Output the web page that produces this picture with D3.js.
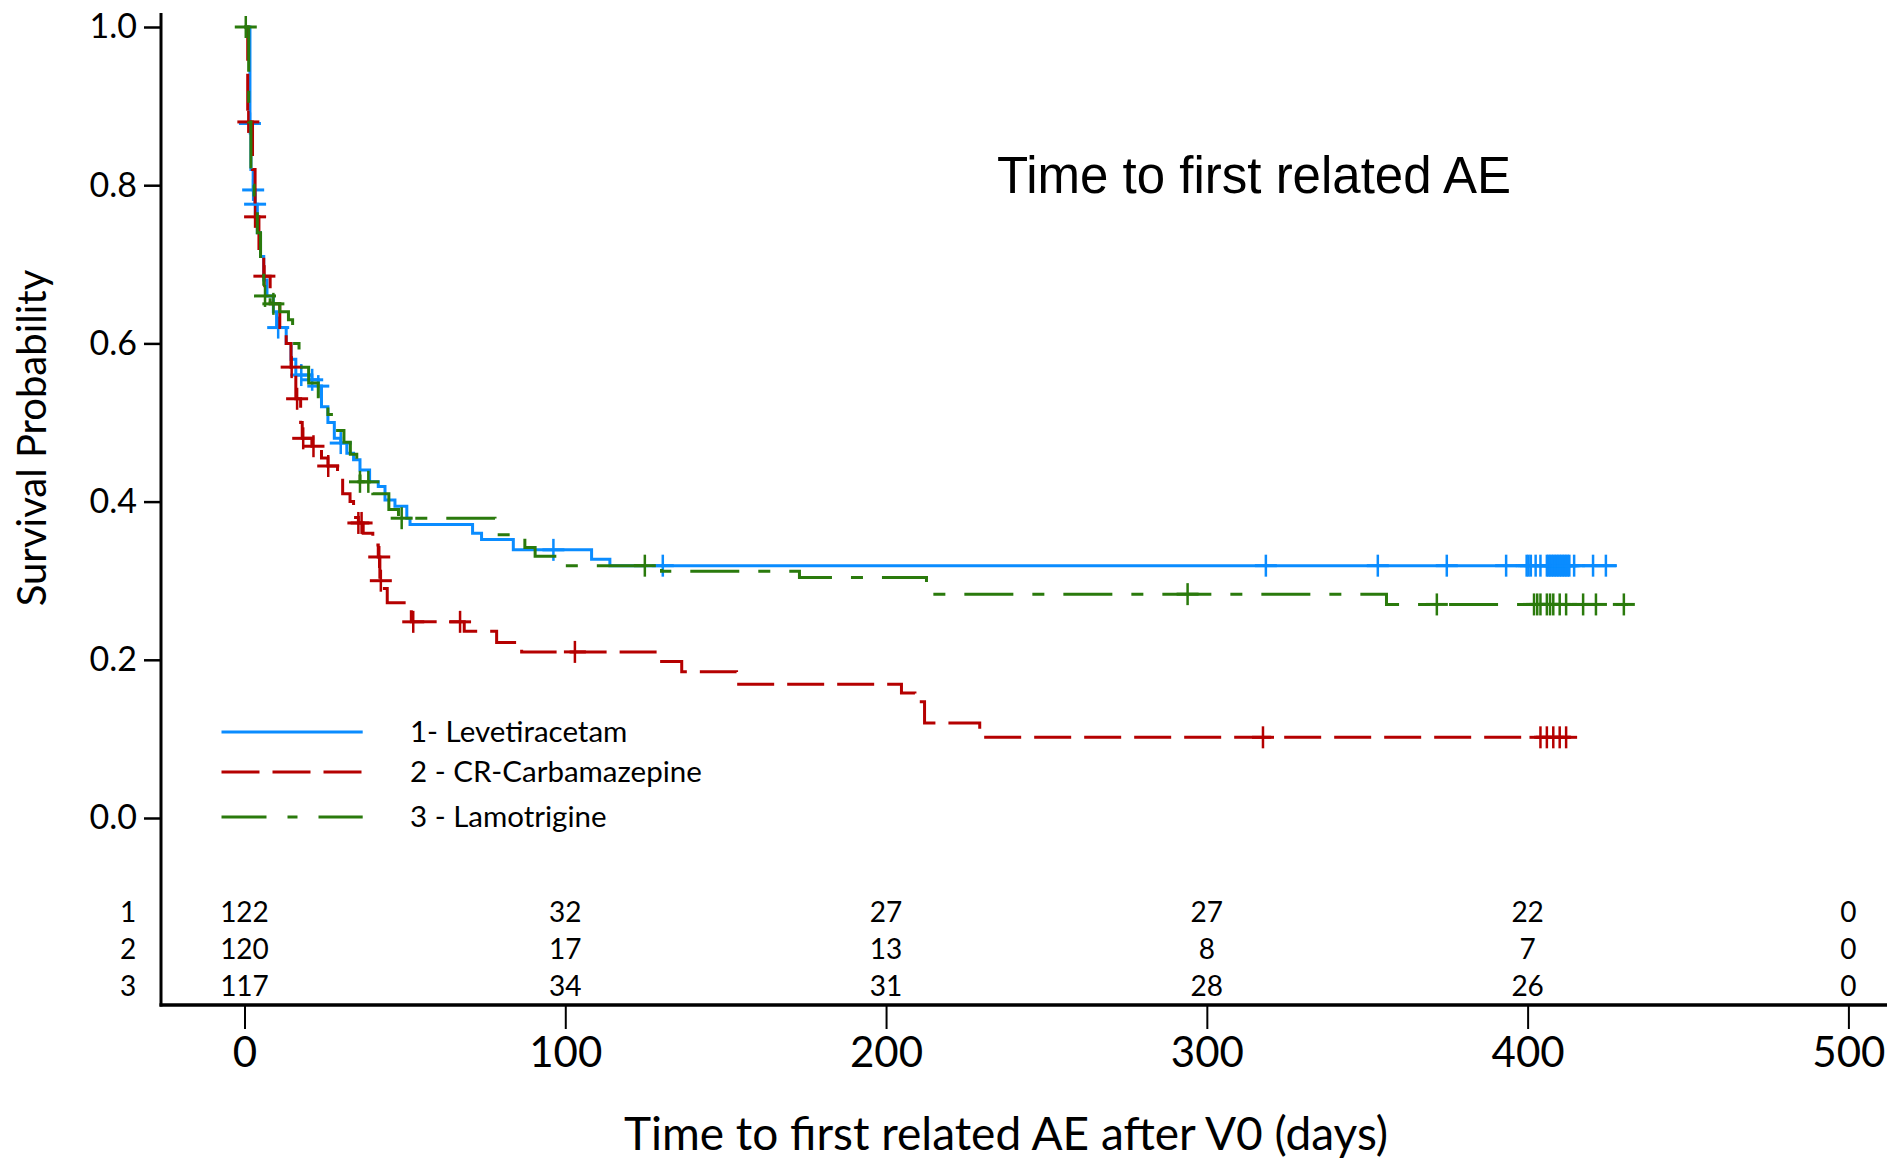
<!DOCTYPE html>
<html>
<head>
<meta charset="utf-8">
<script src="https://cdn.jsdelivr.net/npm/d3@7"></script>
<style>
  body { margin: 0; background: #fff; }
  svg text { font-family: Lato, sans-serif; fill: #000; }
</style>
</head>
<body>
<svg id="chart" width="1903" height="1161"></svg>
<script>
const xTicks = [0, 100, 200, 300, 400, 500];
const yTicks = [0, 0.2, 0.4, 0.6, 0.8, 1.0];
const groupNames = ['1- Levetiracetam', '2 - CR-Carbamazepine', '3 - Lamotrigine'];
const riskRows = ['1', '2', '3'];

// Levetiracetam: step times (days) and survival after each step
const levTimes = [0, 1.7, 2, 2.7, 3.3, 4, 5, 6, 7, 9, 10, 13, 14.5, 16, 21, 23, 24, 26, 28, 30, 31.9, 34, 36, 39, 41.7, 43.8, 46.9, 50.6, 51.6, 71.1, 73.9, 83.8, 108.2, 113.9];
const levSurv = [1.0, 0.878, 0.82, 0.794, 0.776, 0.74, 0.71, 0.68, 0.66, 0.64, 0.62, 0.60, 0.58, 0.56, 0.554, 0.546, 0.52, 0.50, 0.48, 0.474, 0.461, 0.453, 0.44, 0.425, 0.419, 0.402, 0.394, 0.379, 0.371, 0.36, 0.352, 0.339, 0.327, 0.319];
const levEnd = 427.6;
const levCensor = [1.7, 2.7, 3.3, 10.5, 17.7, 21.1, 23, 30, 96.3, 130.4, 318.4, 353.3, 374.8, 393.3, 399.7, 400.3, 401, 402.5, 404, 406, 406.5, 407, 407.5, 408, 408.5, 409, 409.5, 410, 410.5, 411, 411.5, 412, 412.5, 413, 414.5, 420.4, 424.4];

// CR-Carbamazepine
const carTimes = [0, 1, 2.5, 3.3, 4.5, 6, 8, 11, 13, 14.5, 16, 17.5, 18, 21, 24, 26, 29, 30.6, 32.9, 34, 35.5, 37, 40, 41.7, 42.2, 43, 44.5, 52, 68.5, 78.6, 86.4, 128.5, 136.3, 153.4, 204.8, 209, 212, 229.2];
const carSurv = [1.0, 0.88, 0.82, 0.76, 0.72, 0.685, 0.65, 0.62, 0.60, 0.57, 0.53, 0.50, 0.48, 0.47, 0.455, 0.445, 0.43, 0.41, 0.40, 0.38, 0.373, 0.36, 0.345, 0.33, 0.30, 0.29, 0.272, 0.248, 0.236, 0.222, 0.21, 0.198, 0.185, 0.169, 0.158, 0.147, 0.12, 0.102];
const carEnd = 414.8;
const carCensor = [1.2, 3.3, 6.2, 14.7, 16.4, 18.3, 21.5, 26.1, 35.5, 36.5, 42, 42.5, 52.6, 67.2, 103, 317.5, 404, 406, 408, 410, 412];

// Lamotrigine
const lamTimes = [0, 1.3, 2, 2.5, 3, 4, 5, 6, 8, 11, 13.7, 15, 17, 20, 23, 26, 28, 31, 33, 35, 36, 40, 45, 48, 78.1, 87.4, 90.6, 100, 130, 173, 212.6, 356];
const lamSurv = [1.0, 0.88, 0.82, 0.80, 0.78, 0.74, 0.70, 0.66, 0.65, 0.64, 0.63, 0.60, 0.57, 0.55, 0.53, 0.51, 0.49, 0.475, 0.46, 0.44, 0.425, 0.41, 0.39, 0.379, 0.358, 0.342, 0.331, 0.319, 0.312, 0.304, 0.283, 0.27];
const lamEnd = 433.5;
const lamCensor = [0.4, 6.4, 9, 36, 38.6, 49, 124.8, 294, 371.7, 402, 403, 404, 406, 407, 408, 410, 412, 417.3, 421.3, 430];

// numbers at risk
const riskLev = [122, 32, 27, 27, 22, 0];
const riskCar = [120, 17, 13, 8, 7, 0];
const riskLam = [117, 34, 31, 28, 26, 0];

const groups = [
  {name: groupNames[0], times: levTimes, surv: levSurv, end: levEnd, censor: levCensor, color: '#0a8cff', dash: null, legendDash: null},
  {name: groupNames[1], times: carTimes, surv: carSurv, end: carEnd, censor: carCensor, color: '#b50000', dash: '37,13', legendDash: '38,13'},
  {name: groupNames[2], times: lamTimes, surv: lamSurv, end: lamEnd, censor: lamCensor, color: '#2a7a0c', dash: '49,19,12,19', legendDash: '45,21,10,21'},
];
const riskData = [riskLev, riskCar, riskLam];

const svg = d3.select('#chart');

const x = d3.scaleLinear().domain([0, 500]).range([244.5, 1848.4]);
const y = d3.scaleLinear().domain([0, 1]).range([818, 27]);
const axisY = 1005;
const axisX = 161;

// spines
svg.append('line')
    .attr('x1', axisX).attr('x2', axisX)
    .attr('y1', 13).attr('y2', axisY + 1.5)
    .attr('stroke', '#000').attr('stroke-width', 3);
svg.append('line')
    .attr('x1', axisX - 1.5).attr('x2', 1887)
    .attr('y1', axisY).attr('y2', axisY)
    .attr('stroke', '#000').attr('stroke-width', 3.5);

// y axis
const gy = svg.append('g')
    .attr('transform', `translate(${axisX},0)`)
    .call(d3.axisLeft(y).tickValues(yTicks).tickFormat(d3.format('.1f'))
        .tickSize(17).tickPadding(7).tickSizeOuter(0));
gy.select('.domain').remove();
gy.selectAll('.tick line').attr('stroke', '#000').attr('stroke-width', 2.5);
gy.selectAll('.tick text').style('font-size', '34px').style('font-family', 'Lato, sans-serif');

// x axis
const gx = svg.append('g')
    .attr('transform', `translate(0,${axisY})`)
    .call(d3.axisBottom(x).tickValues(xTicks).tickFormat(d3.format('d'))
        .tickSize(24).tickPadding(8).tickSizeOuter(0));
gx.select('.domain').remove();
gx.selectAll('.tick line').attr('stroke', '#000').attr('stroke-width', 2);
gx.selectAll('.tick text').style('font-size', '42px').style('font-family', 'Lato, sans-serif');

// axis titles
svg.append('text')
    .attr('transform', 'translate(46,438) rotate(-90)')
    .attr('text-anchor', 'middle')
    .style('font-size', '40px')
    .text('Survival Probability');

svg.append('text')
    .attr('x', 1006).attr('y', 1150)
    .attr('text-anchor', 'middle')
    .style('font-size', '46px')
    .text('Time to first related AE after V0 (days)');

svg.append('text')
    .attr('x', 997).attr('y', 193)
    .style('font-family', '"Liberation Sans", Arial, sans-serif')
    .style('font-size', '51px')
    .text('Time to first related AE');

// curves
const line = d3.line()
    .x(d => x(d[0]))
    .y(d => y(d[1]))
    .curve(d3.curveStepAfter);

function survAt(g, t) {
  const i = d3.bisectRight(g.times, t) - 1;
  return g.surv[Math.max(0, i)];
}

groups.forEach(g => {
  const pts = g.times.map((t, i) => [t, g.surv[i]]);
  pts.push([g.end, g.surv[g.surv.length - 1]]);

  svg.append('path')
      .datum(pts)
      .attr('fill', 'none')
      .attr('stroke', g.color)
      .attr('stroke-width', 3)
      .attr('stroke-dasharray', g.dash)
      .attr('d', line);

  const marks = svg.append('g')
      .selectAll('g')
      .data(g.censor)
      .enter().append('g')
      .attr('transform', d => `translate(${x(d)},${y(survAt(g, d))})`);
  marks.append('line')
      .attr('x1', -11).attr('x2', 11).attr('y1', 0).attr('y2', 0)
      .attr('stroke', g.color).attr('stroke-width', 3);
  marks.append('line')
      .attr('x1', 0).attr('x2', 0).attr('y1', -11).attr('y2', 11)
      .attr('stroke', g.color).attr('stroke-width', 2.5);
});

// legend
const legendY = [732, 772, 817];
groups.forEach((g, i) => {
  svg.append('line')
      .attr('x1', 221.5).attr('x2', 362.7)
      .attr('y1', legendY[i]).attr('y2', legendY[i])
      .attr('stroke', g.color)
      .attr('stroke-width', 3)
      .attr('stroke-dasharray', g.legendDash);
  svg.append('text')
      .attr('x', 410).attr('y', legendY[i] + 10)
      .style('font-size', '29.5px')
      .text(g.name);
});

// numbers at risk table
const rowY = [912, 949, 986];
riskRows.forEach((r, i) => {
  svg.append('text')
      .attr('x', 128).attr('y', rowY[i] + 10)
      .attr('text-anchor', 'middle')
      .style('font-size', '28px')
      .text(r);
  svg.append('g')
      .selectAll('text')
      .data(riskData[i])
      .enter().append('text')
      .attr('x', (d, j) => x(xTicks[j]))
      .attr('y', rowY[i] + 10)
      .attr('text-anchor', 'middle')
      .style('font-size', '28px')
      .text(d => d);
});
</script>
</body>
</html>
